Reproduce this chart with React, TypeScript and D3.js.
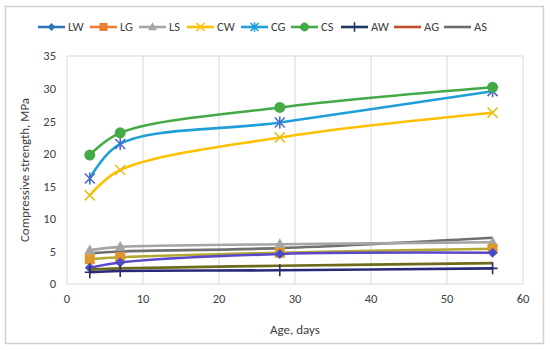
import React from "react";
import * as d3 from "d3";

const ages = [3, 7, 28, 56];
const seriesNames = ["LW", "LG", "LS", "CW", "CG", "CS", "AW", "AG", "AS"];
const LW = [2.5, 3.3, 4.6, 4.8];
const LG = [3.8, 4.1, 4.8, 5.4];
const LS = [5.2, 5.7, 6.1, 6.4];
const CW = [13.6, 17.5, 22.5, 26.3];
const CG = [16.2, 21.5, 24.8, 29.6];
const CS = [19.8, 23.2, 27.1, 30.2];
const AW = [1.8, 2.0, 2.1, 2.4];
const AG = [2.2, 2.4, 2.8, 3.2];
const AS = [4.7, 5.0, 5.5, 7.1];
const xTicks = [0, 10, 20, 30, 40, 50, 60];
const yTicks = [0, 5, 10, 15, 20, 25, 30, 35];

const values: Record<string, number[]> = { LW, LG, LS, CW, CG, CS, AW, AG, AS };
const lineColor: Record<string, string> = {
  LW: "#5a48c8", LG: "#b3a832", LS: "#a5a5a5", CW: "#ffc000", CG: "#1f9fd8",
  CS: "#44aa48", AW: "#2a2878", AG: "#6e6a1c", AS: "#707070",
};
const legendColor: Record<string, string> = {
  LW: "#2e75b6", LG: "#ed7d31", LS: "#a5a5a5", CW: "#ffc000", CG: "#21a0db",
  CS: "#44aa48", AW: "#1f3864", AG: "#c0502a", AS: "#6b6b6b",
};
const markerColor: Record<string, string> = {
  LW: "#4a4ac8", LG: "#e0962a", LS: "#a5a5a5", CW: "#e6c020", CG: "#4a6ad0",
  CS: "#44aa48", AW: "#2a2878", AG: "none", AS: "none",
};
const markerType: Record<string, string> = {
  LW: "diamond", LG: "square", LS: "triangle", CW: "x", CG: "star",
  CS: "circle", AW: "plus", AG: "none", AS: "none",
};
const legendLineX = [38, 90, 139, 187, 241, 291, 341, 394, 444];
const drawOrder = ["AS", "LS", "LG", "LW", "AG", "AW", "CW", "CG", "CS"];

function Marker({ type, x, y, color, s = 1 }: any) {
  if (type === "none") return null;
  if (type === "diamond")
    return <path d={`M${x},${y - 5 * s}L${x + 5 * s},${y}L${x},${y + 5 * s}L${x - 5 * s},${y}Z`} fill={color} />;
  if (type === "square")
    return <rect x={x - 5 * s} y={y - 5 * s} width={10 * s} height={10 * s} fill={color} />;
  if (type === "triangle")
    return <path d={`M${x},${y - 6 * s}L${x + 5.5 * s},${y + 4 * s}L${x - 5.5 * s},${y + 4 * s}Z`} fill={color} />;
  if (type === "circle") return <circle cx={x} cy={y} r={5.5 * s} fill={color} />;
  if (type === "x")
    return (
      <path d={`M${x - 5 * s},${y - 5 * s}L${x + 5 * s},${y + 5 * s}M${x - 5 * s},${y + 5 * s}L${x + 5 * s},${y - 5 * s}`}
        stroke={color} strokeWidth={1.6} />
    );
  if (type === "star")
    return (
      <path d={`M${x - 5 * s},${y - 5 * s}L${x + 5 * s},${y + 5 * s}M${x - 5 * s},${y + 5 * s}L${x + 5 * s},${y - 5 * s}M${x},${y - 6 * s}L${x},${y + 6 * s}`}
        stroke={color} strokeWidth={1.6} />
    );
  if (type === "plus")
    return (
      <path d={`M${x - 5 * s},${y}L${x + 5 * s},${y}M${x},${y - 6 * s}L${x},${y + 6 * s}`}
        stroke={color} strokeWidth={1.6} />
    );
  return null;
}

export default function App() {
  const x = d3.scaleLinear().domain([0, 60]).range([67, 523]);
  const y = d3.scaleLinear().domain([0, 35]).range([284, 56]);
  const line = d3
    .line<number>()
    .x((_, i) => x(ages[i]))
    .y((d) => y(d))
    .curve(d3.curveCatmullRom.alpha(0.5));
  const font = "Calibri, Carlito, 'Open Sans', 'Liberation Sans', sans-serif";
  return (
    <svg width={550} height={350} style={{ position: "absolute", left: 0, top: 0 }} fontFamily={font}>
      <rect x={0} y={0} width={550} height={350} fill="#fff" />
      <rect x={5.5} y={6.5} width={538} height={337} fill="none" stroke="#d0d0d0" strokeWidth={1.5} />
      {xTicks.slice(1, -1).map((t) => (
        <line key={t} x1={x(t)} x2={x(t)} y1={y(35)} y2={y(0)} stroke="#d9d9d9" strokeWidth={1} />
      ))}
      <rect x={x(0)} y={y(35)} width={x(60) - x(0)} height={y(0) - y(35)} fill="none" stroke="#d9d9d9" strokeWidth={1} />
      {yTicks.map((t) => (
        <text key={t} x={56} y={y(t)} dy="0.35em" textAnchor="end" fontSize={12.5} fill="#404040">{t}</text>
      ))}
      {xTicks.map((t) => (
        <text key={t} x={x(t)} y={303} textAnchor="middle" fontSize={12.5} fill="#404040">{t}</text>
      ))}
      <text transform={`translate(29,170) rotate(-90)`} textAnchor="middle" fontSize={13} fill="#404040">
        Compressive strength, MPa
      </text>
      <text x={295} y={334} textAnchor="middle" fontSize={13} fill="#404040">Age, days</text>
      {drawOrder.map((n) => (
        <g key={n}>
          <path d={line(values[n]) || ""} fill="none" stroke={lineColor[n]} strokeWidth={2.6} />
          {values[n].map((v, i) => (
            <Marker key={i} type={markerType[n]} x={x(ages[i])} y={y(v)} color={markerColor[n]} />
          ))}
        </g>
      ))}
      {seriesNames.map((n, i) => {
        const lx = legendLineX[i];
        return (
          <g key={n}>
            <line x1={lx} x2={lx + 27} y1={27} y2={27} stroke={legendColor[n]} strokeWidth={2.6} />
            <Marker type={markerType[n]} x={lx + 13.5} y={27} color={legendColor[n]} s={0.8} />
            <text x={lx + 30} y={27} dy="0.35em" fontSize={12.5} fill="#404040">{n}</text>
          </g>
        );
      })}
    </svg>
  );
}
